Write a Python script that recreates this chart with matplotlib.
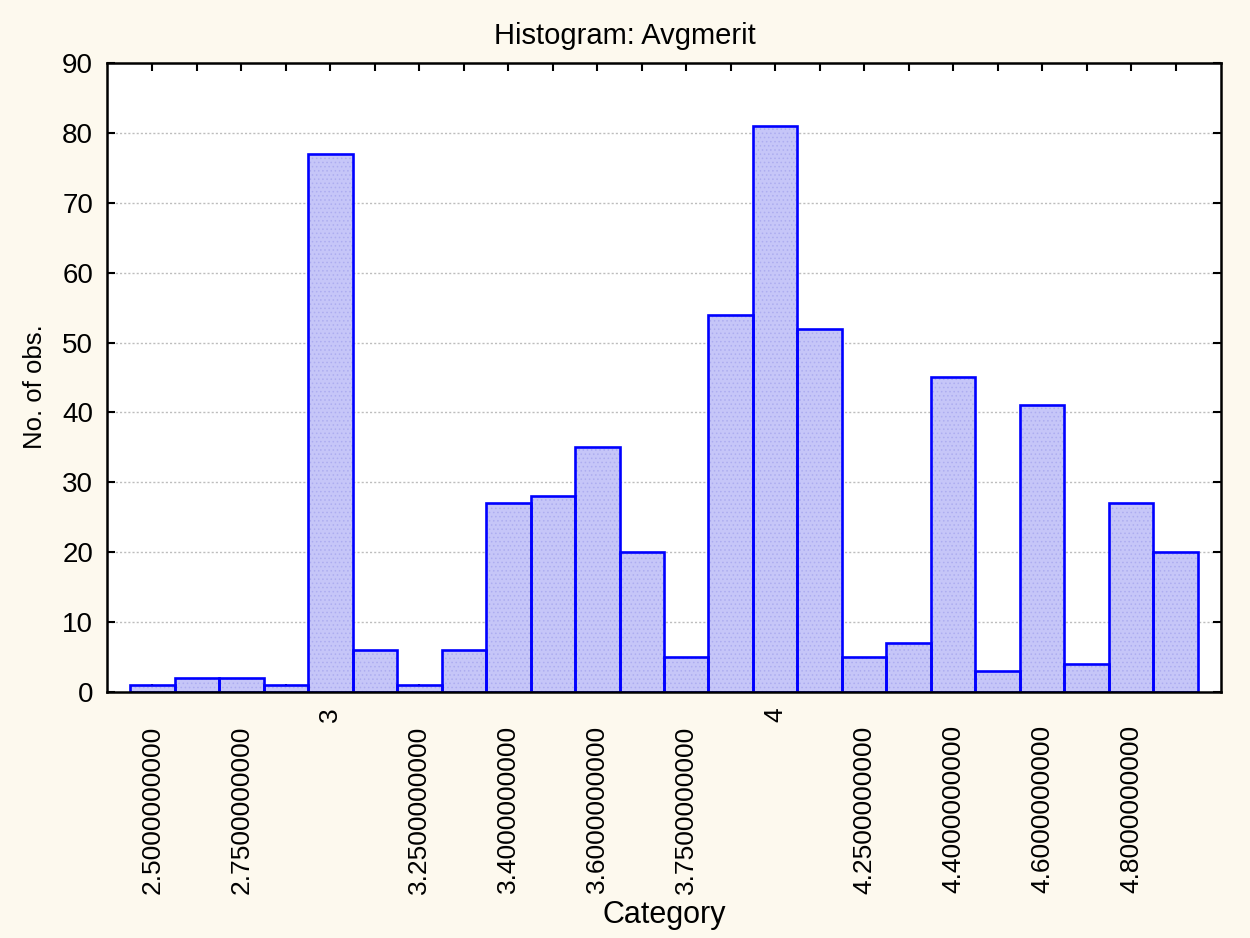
"""Histogram of Avgmerit, STATISTICA-style categorical bars."""

import matplotlib

matplotlib.use("Agg")
import matplotlib.pyplot as plt
import numpy as np

plt.rcParams["font.family"] = ["Liberation Sans", "DejaVu Sans"]
plt.rcParams["hatch.linewidth"] = 0.6

# --- data ---
counts = [1, 2, 2, 1, 77, 6, 1, 6, 27, 28, 35, 20,
          5, 54, 81, 52, 5, 7, 45, 3, 41, 4, 27, 20]
tick_labels = [
    "2.5000000000", "", "2.7500000000", "", "3", "",
    "3.2500000000", "", "3.4000000000", "", "3.6000000000", "",
    "3.7500000000", "", "4", "", "4.2500000000", "",
    "4.4000000000", "", "4.6000000000", "", "4.8000000000", "",
]
y_ticks = list(range(0, 91, 10))

BG = "#fdf9ee"
FACE = "#c6c6f8"
HATCH = "#adadf0"
EDGE = "#0000ff"

fig = plt.figure(figsize=(12.5, 9.38), dpi=100, facecolor=BG)
ax = fig.add_axes([0.0856, 0.2623, 0.8912, 0.6706])
ax.set_facecolor("white")

x = np.arange(len(counts))
# fill with a light dotted pattern, then the blue outlines on top
ax.bar(x, counts, width=1.0, color=FACE, edgecolor=HATCH, linewidth=0,
       hatch="....", zorder=3)
ax.bar(x, counts, width=1.0, fill=False, edgecolor=EDGE, linewidth=1.9,
       zorder=4)

ax.set_xlim(-1.02, len(counts) - 1 + 1.02)
ax.set_ylim(0, 90)

ax.set_yticks(y_ticks)
ax.set_yticklabels([str(v) for v in y_ticks], fontsize=20)
ax.set_xticks(x)
ax.set_xticklabels(tick_labels, rotation=90, fontsize=19)

ax.tick_params(axis="both", direction="in", length=6, width=1.5,
               top=True, right=True, colors="black")
ax.tick_params(axis="y", pad=10)
for tick, lbl in zip(ax.xaxis.get_major_ticks(), tick_labels):
    tick.set_pad(11 if len(lbl) == 1 else 24)

for yv in y_ticks[1:-1]:
    ax.axhline(yv, color="#bdbdbd", linestyle=(0, (1.5, 1.5)), linewidth=1.0,
               zorder=1)

for s in ax.spines.values():
    s.set_linewidth(1.8)
    s.set_zorder(5)

fig.text(0.5, 0.962, "Histogram: Avgmerit", ha="center", va="center",
         fontsize=21)
fig.text(0.531, 0.024, "Category", ha="center", va="center", fontsize=22)
fig.text(0.028, 0.588, "No. of obs.", ha="center", va="center",
         rotation=90, fontsize=18.5)

fig.savefig("out.png", dpi=100, facecolor=BG)
